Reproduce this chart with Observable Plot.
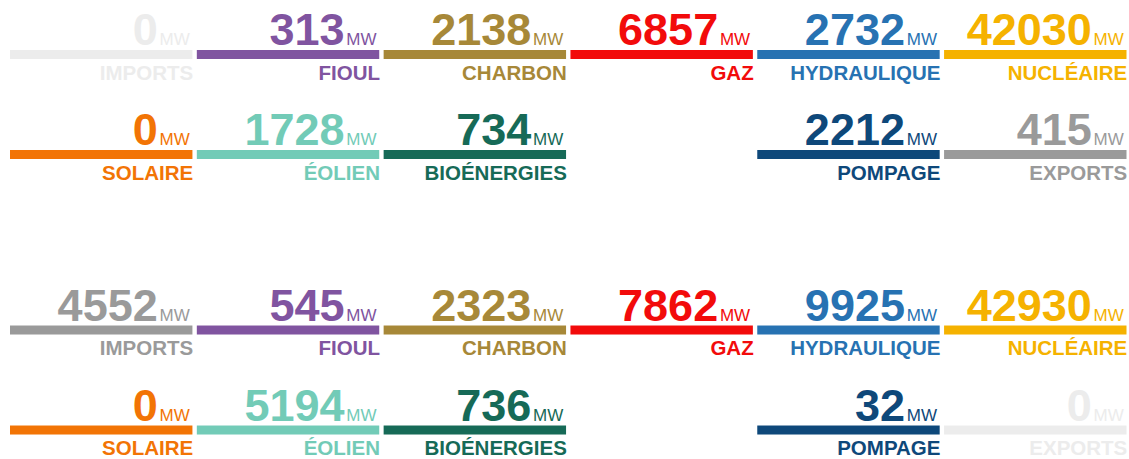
<!DOCTYPE html>
<html>
<head>
<meta charset="utf-8">
<script src="https://cdn.jsdelivr.net/npm/d3@7"></script>
<script src="https://cdn.jsdelivr.net/npm/@observablehq/plot@0.6"></script>
<style>
  html, body { margin: 0; padding: 0; background: #ffffff; }
  #chart svg { display: block; }
</style>
</head>
<body>
<div id="chart"></div>
<script>
// Categories (tile labels)
const categories = ["IMPORTS", "FIOUL", "CHARBON", "GAZ", "HYDRAULIQUE", "NUCLÉAIRE",
                    "SOLAIRE", "ÉOLIEN", "BIOÉNERGIES", "POMPAGE", "EXPORTS"];
// Values in MW, one list per panel
const valuesTop    = [0, 313, 2138, 6857, 2732, 42030, 0, 1728, 734, 2212, 415];
const valuesBottom = [4552, 545, 2323, 7862, 9925, 42930, 0, 5194, 736, 32, 0];
const unit = "MW";

// Grid slot of each category (column, row)
const gridCol = [0, 1, 2, 3, 4, 5, 0, 1, 2, 4, 5];
const gridRow = [0, 0, 0, 0, 0, 0, 1, 1, 1, 1, 1];

// Colours
const palette = ["#9a9a9a", "#8054a0", "#a78838", "#f20b0b", "#2772b2", "#f5b200",
                 "#f27405", "#72cbb7", "#166a57", "#0e487a", "#9a9a9a"];
const fadeWhenZero = [true, false, false, false, false, false, false, false, false, false, true];
const fadedColor = "#ececec";

const tiles = [];
[valuesTop, valuesBottom].forEach((vals, p) => {
  vals.forEach((v, i) => {
    tiles.push({
      panel: p,
      category: categories[i],
      value: v,
      col: gridCol[i],
      row: gridRow[i],
      color: (v === 0 && fadeWhenZero[i]) ? fadedColor : palette[i]
    });
  });
});

const font = "'Liberation Sans', Arial, Helvetica, sans-serif";

const chart = Plot.plot({
  width: 1129,
  height: 459,
  margin: 0,
  style: { fontFamily: font, background: "#ffffff" },
  facet: { data: tiles, y: "panel", margin: 0 },
  fy: { domain: [0, 1], axis: null, paddingInner: 0.334, paddingOuter: 0, round: false },
  x: { type: "band", domain: d3.range(6), range: [10, 1126.5], paddingInner: 0.0235, paddingOuter: 0, round: false, axis: null },
  y: { type: "band", domain: [0, 1], range: [50, 159], paddingInner: 0.91, paddingOuter: 0, round: false, axis: null },
  color: { type: "identity" },
  marks: [
    Plot.cell(tiles, { x: "col", y: "row", fill: "color", inset: 0 }),
    Plot.text(tiles, {
      x: "col", y: "row", text: d => String(d.value), fill: "color",
      textAnchor: "end", lineAnchor: "bottom", dx: 56, dy: -10,
      fontSize: 45, fontWeight: "bold"
    }),
    Plot.text(tiles, {
      x: "col", y: "row", text: () => unit, fill: "color",
      textAnchor: "end", lineAnchor: "bottom", dx: 88, dy: -10,
      fontSize: 17
    }),
    Plot.text(tiles, {
      x: "col", y: "row", text: "category", fill: "color",
      textAnchor: "end", lineAnchor: "bottom", dx: 91.5, dy: 24.5,
      fontSize: 20.5, fontWeight: "bold"
    })
  ]
});

document.getElementById("chart").appendChild(chart);
</script>
</body>
</html>
